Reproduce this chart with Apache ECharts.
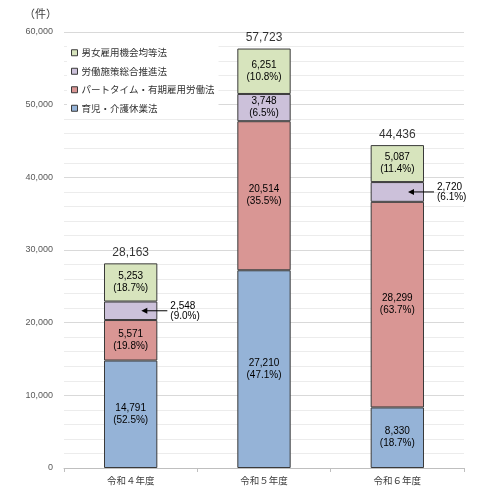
<!DOCTYPE html>
<html>
<head>
<meta charset="utf-8">
<script src="https://cdn.jsdelivr.net/npm/echarts@6/dist/echarts.min.js"></script>
<style>
  html, body { margin: 0; padding: 0; background: #fff; }
  #chart { width: 485px; height: 498px; }
</style>
</head>
<body>
<div id="chart"></div>
<script>
// ── データ ─────────────────────────────────────────────
const categories = ['令和４年度', '令和５年度', '令和６年度'];
const seriesNames = ['育児・介護休業法', 'パートタイム・有期雇用労働法', '労働施策総合推進法', '男女雇用機会均等法'];
const ikujiKaigo  = [14791, 27210, 8330];
const partTime    = [5571, 20514, 28299];
const roudouSesaku = [2548, 3748, 2720];
const danjo       = [5253, 6251, 5087];
const totals      = [28163, 57723, 44436];
// 紫が細いので外側に吹き出しを出す年度
const calloutIdx  = [0, 2];

const colors = ['#95B3D7', '#D99694', '#CCC1DA', '#D7E4BD'];
const numFont = "'Liberation Sans', Arial, sans-serif";
const jpFont  = "'Noto Sans CJK JP', sans-serif";

const fmt = v => v.toLocaleString('en-US');
const pct = (v, i) => (v / totals[i] * 100).toFixed(1);

// ── ECharts ───────────────────────────────────────────
const chart = echarts.init(document.getElementById('chart'));

function barSeries(name, values, color) {
  return {
    name,
    type: 'bar',
    stack: 'total',
    barWidth: '40%',
    data: values,
    itemStyle: { color, borderColor: '#3a3a3a', borderWidth: 1 },
    label: {
      show: true,
      position: 'inside',
      color: '#000',
      fontFamily: numFont,
      fontSize: 10,
      lineHeight: 12,
      formatter: p => `${fmt(p.value)}\n(${pct(p.value, p.dataIndex)}%)`,
    },
  };
}

const purpleData = roudouSesaku.map((v, i) => calloutIdx.includes(i)
  ? { value: v, label: { position: 'right', distance: 13, lineHeight: 10 } }
  : v);

const arrowData = calloutIdx.map(i => [i, ikujiKaigo[i] + partTime[i] + roudouSesaku[i] / 2]);

const option = {
  animation: false,
  backgroundColor: '#fff',
  grid: { left: 64, right: 21, top: 32, bottom: 30 },
  legend: {
    orient: 'vertical',
    left: 67,
    top: 46,
    padding: [2, 4, 2, 4],
    backgroundColor: '#fff',
    icon: 'rect',
    itemWidth: 6,
    itemHeight: 6,
    itemGap: 9,
    data: seriesNames.slice().reverse(),
    textStyle: { color: '#333', fontSize: 9.5, fontFamily: jpFont, padding: [0, 0, 0, -1] },
    itemStyle: { borderColor: '#3a3a3a', borderWidth: 1 },
  },
  xAxis: {
    type: 'category',
    data: categories,
    axisLine: { lineStyle: { color: '#bfbfbf' } },
    axisTick: { show: true, length: 4, lineStyle: { color: '#bfbfbf' } },
    axisLabel: { color: '#404040', fontSize: 9.5, fontFamily: jpFont, margin: 8 },
  },
  yAxis: {
    type: 'value',
    min: 0,
    max: 60000,
    interval: 10000,
    name: '（件）',
    nameLocation: 'end',
    nameGap: 13,
    nameTextStyle: { color: '#404040', fontSize: 11, fontFamily: jpFont, align: 'right', padding: [0, 7, 0, 0] },
    axisLine: { show: false },
    axisTick: { show: false },
    axisLabel: { color: '#595959', fontSize: 9, fontFamily: numFont, margin: 11, formatter: v => fmt(v) },
    splitLine: { lineStyle: { color: '#d9d9d9' } },
    minorTick: { show: false, splitNumber: 5 },
    minorSplitLine: { show: true, lineStyle: { color: '#ececec' } },
  },
  series: [
    barSeries(seriesNames[0], ikujiKaigo, colors[0]),
    barSeries(seriesNames[1], partTime, colors[1]),
    barSeries(seriesNames[2], purpleData, colors[2]),
    barSeries(seriesNames[3], danjo, colors[3]),
    {
      // 合計ラベル
      type: 'scatter',
      data: totals,
      symbolSize: 1,
      itemStyle: { color: 'rgba(0,0,0,0)' },
      label: {
        show: true,
        position: 'top',
        distance: 4,
        color: '#000',
        fontFamily: numFont,
        fontSize: 12,
        formatter: p => fmt(p.value),
      },
      z: 5,
    },
    {
      // 吹き出し矢印
      type: 'custom',
      data: arrowData,
      z: 6,
      renderItem: (params, api) => {
        const p = api.coord([api.value(0), api.value(1)]);
        const w = api.size([1, 0])[0] * 0.4;
        const tip = p[0] + w * 0.2;
        const tail = p[0] + w / 2 + 10;
        const y = p[1];
        return {
          type: 'group',
          children: [
            { type: 'line', shape: { x1: tip + 5, y1: y, x2: tail, y2: y },
              style: { stroke: '#000', lineWidth: 1 } },
            { type: 'polygon', shape: { points: [[tip, y], [tip + 6, y - 3], [tip + 6, y + 3]] },
              style: { fill: '#000' } },
          ],
        };
      },
    },
  ],
};
chart.setOption(option);
</script>
</body>
</html>
